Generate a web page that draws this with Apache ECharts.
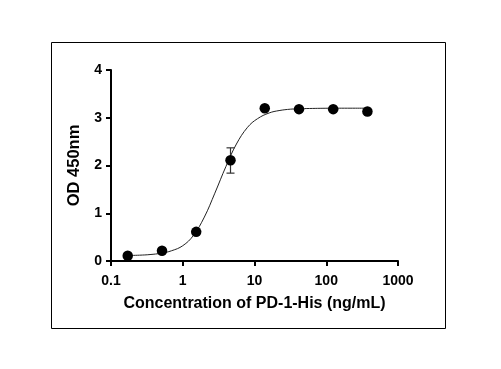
<!DOCTYPE html>
<html>
<head>
<meta charset="utf-8">
<script src="https://cdn.jsdelivr.net/npm/echarts@6/dist/echarts.min.js"></script>
<style>
html,body{margin:0;padding:0;background:#fff;}
#chart{width:501px;height:369px;}
</style>
</head>
<body>
<div id="chart"></div>
<script>
// Measured points (concentration in ng/mL, OD 450nm)
const concentrations = [0.171, 0.514, 1.54, 4.63, 13.9, 41.7, 125, 375];
const odValues = [0.11, 0.215, 0.61, 2.11, 3.20, 3.18, 3.18, 3.13];
// Error bar (only visible at 4.63 ng/mL)
const errConc = [4.63];
const errLow = [1.84];
const errHigh = [2.37];
// Fitted curve
const curveX = [0.171, 0.25, 0.35, 0.5, 0.7, 1, 1.4, 2, 2.8, 4, 5.6, 8, 11, 16, 22, 32, 45, 64, 90, 128, 180, 256, 375];
const curveY = [0.115, 0.122, 0.135, 0.163, 0.215, 0.32, 0.53, 0.92, 1.42, 1.98, 2.45, 2.80, 2.98, 3.10, 3.15, 3.18, 3.19, 3.195, 3.198, 3.2, 3.2, 3.2, 3.2];
// Axis ticks
const xTickLabels = ['0.1', '1', '10', '100', '1000'];
const yTickValues = [0, 1, 2, 3, 4];
const xTitle = 'Concentration of PD-1-His (ng/mL)';
const yTitle = 'OD 450nm';

const FONT = '"Liberation Sans", Arial, sans-serif';
const chart = echarts.init(document.getElementById('chart'), null, {renderer: 'canvas'});

const option = {
  animation: false,
  backgroundColor: '#fff',
  graphic: [{
    type: 'rect',
    shape: {x: 51.5, y: 42.5, width: 394, height: 286},
    style: {fill: 'none', stroke: '#000', lineWidth: 1},
    z: -1
  }],
  grid: {left: 111, top: 70, width: 287, height: 191, containLabel: false},
  xAxis: {
    type: 'log',
    logBase: 10,
    min: 0.1,
    max: 1000,
    name: xTitle,
    nameLocation: 'middle',
    nameGap: 35,
    nameTextStyle: {fontFamily: FONT, fontWeight: 'bold', fontSize: 16, color: '#000'},
    axisLine: {show: true, onZero: false, lineStyle: {color: '#000', width: 2}},
    axisTick: {show: true, inside: false, length: 5, lineStyle: {color: '#000', width: 2}},
    minorTick: {show: false},
    splitLine: {show: false},
    axisLabel: {
      margin: 13,
      fontFamily: FONT, fontWeight: 'bold', fontSize: 14, color: '#000',
      formatter: function (v) {
        const idx = Math.round(Math.log10(v)) + 1;
        return xTickLabels[idx] !== undefined ? xTickLabels[idx] : '';
      }
    }
  },
  yAxis: {
    type: 'value',
    min: yTickValues[0],
    max: yTickValues[yTickValues.length - 1],
    interval: 1,
    name: yTitle,
    nameLocation: 'middle',
    nameGap: 27,
    nameRotate: 90,
    nameTextStyle: {fontFamily: FONT, fontWeight: 'bold', fontSize: 16.5, color: '#000'},
    axisLine: {show: true, lineStyle: {color: '#000', width: 2}},
    axisTick: {show: true, inside: false, length: 5, lineStyle: {color: '#000', width: 2}},
    splitLine: {show: false},
    axisLabel: {margin: 9, fontFamily: FONT, fontWeight: 'bold', fontSize: 14, color: '#000'}
  },
  series: [
    {
      type: 'line',
      data: curveX.map((x, i) => [x, curveY[i]]),
      smooth: 0.4,
      showSymbol: false,
      symbol: 'none',
      lineStyle: {color: '#222', width: 1},
      z: 2
    },
    {
      type: 'custom',
      data: errConc.map((x, i) => [x, errLow[i], errHigh[i]]),
      renderItem: function (params, api) {
        const lo = api.coord([api.value(0), api.value(1)]);
        const hi = api.coord([api.value(0), api.value(2)]);
        const w = 4;
        const st = {stroke: '#333', lineWidth: 1.2};
        return {
          type: 'group',
          children: [
            {type: 'line', shape: {x1: lo[0], y1: lo[1], x2: hi[0], y2: hi[1]}, style: st},
            {type: 'line', shape: {x1: lo[0] - w, y1: lo[1], x2: lo[0] + w, y2: lo[1]}, style: st},
            {type: 'line', shape: {x1: hi[0] - w, y1: hi[1], x2: hi[0] + w, y2: hi[1]}, style: st}
          ]
        };
      },
      z: 3
    },
    {
      type: 'scatter',
      data: concentrations.map((x, i) => [x, odValues[i]]),
      symbol: 'circle',
      symbolSize: 10.5,
      itemStyle: {color: '#000', opacity: 1},
      z: 4
    }
  ]
};
chart.setOption(option);
</script>
</body>
</html>
